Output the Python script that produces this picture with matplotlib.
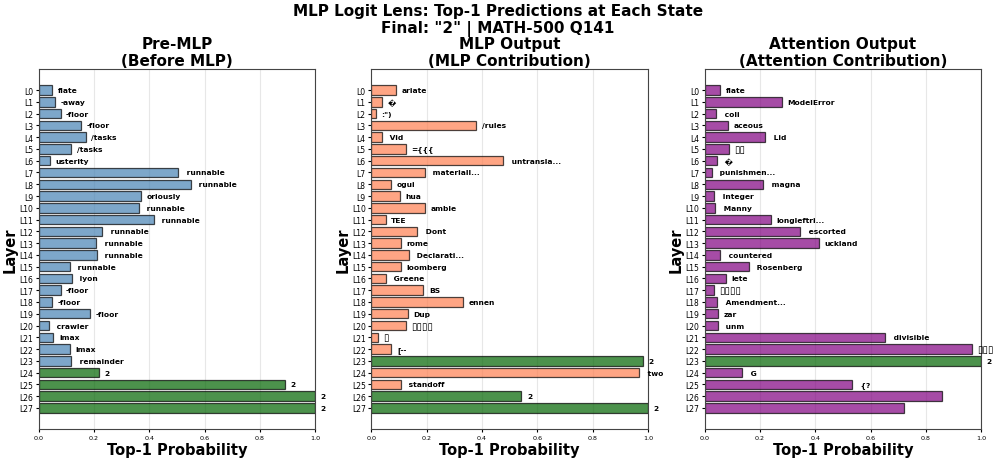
import matplotlib
matplotlib.use("Agg")
import matplotlib.pyplot as plt
import numpy as np

layers = [f"L{i}" for i in range(28)]

pre_vals = [0.049, 0.058, 0.079, 0.152, 0.170, 0.118, 0.040, 0.505, 0.550, 0.371,
            0.362, 0.416, 0.229, 0.208, 0.210, 0.112, 0.119, 0.079, 0.048, 0.187,
            0.036, 0.053, 0.113, 0.118, 0.219, 0.891, 1.000, 1.000]
pre_tokens = ["flate", "-away", "-floor", "-floor", "/tasks", "/tasks", "usterity",
              " runnable", " runnable", "oriously", " runnable", " runnable", " runnable",
              " runnable", " runnable", " runnable", " lyon", "-floor", "-floor", "-floor",
              " crawler", "imax", "imax", " remainder", "2", "2", "2", "2"]

mlp_vals = [0.088, 0.040, 0.017, 0.380, 0.037, 0.126, 0.477, 0.193, 0.071, 0.102,
            0.195, 0.052, 0.166, 0.108, 0.135, 0.106, 0.052, 0.188, 0.332, 0.131,
            0.124, 0.023, 0.073, 0.983, 0.969, 0.107, 0.543, 1.000]
mlp_tokens = ["ariate", "\ufffd", ':")', "/rules", " Vid", "={{{", " untransla...",
              " materiall...", "ogui", "hua", "amble", "TEE", " Dont", "rome",
              " Declarati...", "loomberg", " Greene", "BS", "ennen", "Dup",
              "\u25af\u25af\u25af\u25af", "\u25af", "[--", "2", " two", " standoff", "2", "2"]

attn_vals = [0.055, 0.278, 0.042, 0.083, 0.219, 0.088, 0.043, 0.025, 0.211, 0.035,
             0.039, 0.239, 0.345, 0.412, 0.057, 0.160, 0.076, 0.033, 0.046, 0.049,
             0.047, 0.653, 0.966, 1.000, 0.135, 0.534, 0.860, 0.720]
attn_tokens = ["flate", "ModelError", " coli", "aceous", " Lid", "\u25af\u25af", " \ufffd",
               " punishmen...", " magna", " Integer", " Manny", "longleftri...",
               " escorted", "uckland", " countered", " Rosenberg", "iete",
               "\u25af\u25af\u25af\u25af", " Amendment...", "zar", " unm", " divisible",
               "\u25af\u25af\u25af", "2", " G", " {?", "", ""]

final_token = "2"
panel_titles = ["Pre-MLP\n(Before MLP)", "MLP Output\n(MLP Contribution)",
                "Attention Output\n(Attention Contribution)"]
suptitle = 'MLP Logit Lens: Top-1 Predictions at Each State\nFinal: "2" | MATH-500 Q141'
xlabel = "Top-1 Probability"
ylabel = "Layer"

base_colors = ["steelblue", "coral", "purple"]
match_color = "darkgreen"

W, H = 996, 460
fig = plt.figure(figsize=(W / 100, H / 100), dpi=100)

lefts = [38.7, 371.3, 704.7]
ax_w = 276.5
ax_top, ax_bot = 70, 430

panels = [(pre_vals, pre_tokens), (mlp_vals, mlp_tokens), (attn_vals, attn_tokens)]
y = np.arange(len(layers))

for i, ((vals, toks), title, base) in enumerate(zip(panels, panel_titles, base_colors)):
    ax = fig.add_axes([lefts[i] / W, 1 - ax_bot / H, ax_w / W, (ax_bot - ax_top) / H])
    colors = [match_color if t.strip() == final_token else base for t in toks]
    ax.barh(y, vals, color=colors, alpha=0.7, edgecolor="black", linewidth=0.9, height=0.8)
    for yi, v, t in zip(y, vals, toks):
        boxes = len(t) > 0 and set(t) == {"\u25af"}
        ax.text(v + 0.02, yi, t, va="center", ha="left",
                fontsize=7.2 if boxes else 5.4,
                fontweight="normal" if boxes else "bold", color="black")
    ax.set_yticks(y)
    ax.set_yticklabels(layers, fontsize=5.5)
    ax.invert_yaxis()
    ax.set_xlim(0, 1.0)
    ax.set_xticks([0, 0.2, 0.4, 0.6, 0.8, 1.0])
    ax.tick_params(axis="x", labelsize=4.6, length=2.5, pad=2)
    ax.tick_params(axis="y", length=2.5, pad=1.5)
    ax.grid(axis="x", alpha=0.3)
    ax.set_axisbelow(True)
    for s in ax.spines.values():
        s.set_color("#444444")
    ax.set_xlabel(xlabel, fontsize=10.5, fontweight="bold", labelpad=1)
    ax.set_ylabel(ylabel, fontsize=10.5, fontweight="bold", labelpad=1)
    ax.set_title(title, fontsize=11, fontweight="bold", pad=2.8)

fig.suptitle(suptitle, fontsize=11, fontweight="bold", y=0.992, va="top")
fig.savefig("out.png", dpi=100)
